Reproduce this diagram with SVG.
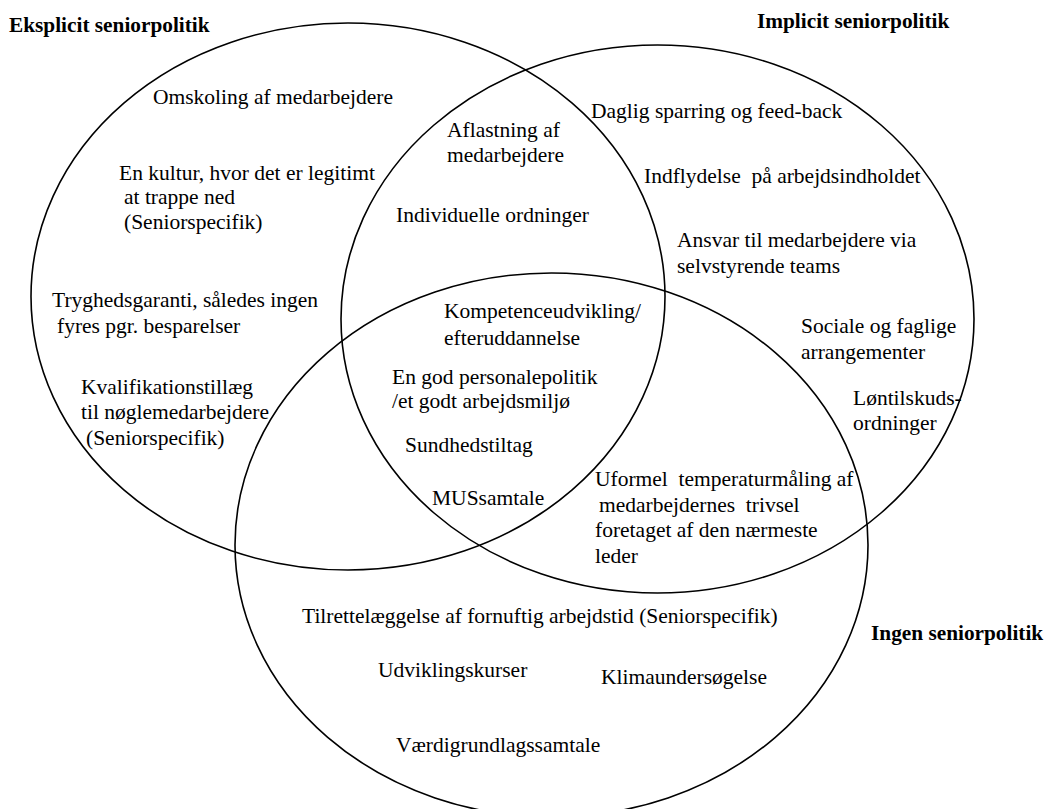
<svg xmlns="http://www.w3.org/2000/svg" width="1045" height="809" viewBox="0 0 1045 809" font-family="'Liberation Serif', 'Times New Roman', Times, serif">
<style>
.set{fill:none;stroke:#000;stroke-width:1.6}
text{font-family:'Liberation Serif','Times New Roman',Times,serif;font-size:21.5px;fill:#000}
.title{font-weight:bold;font-size:21.3px}
.pre{white-space:pre}
</style>
<rect width="1045" height="809" fill="#fff"/>
<g id="sets">
  <g id="eksplicit"><ellipse class="set" cx="348" cy="296.5" rx="317" ry="273.5"/><text class="title" x="9" y="32">Eksplicit seniorpolitik</text></g>
  <g id="implicit"><ellipse class="set" cx="657.5" cy="319" rx="316.5" ry="274"/><text class="title" x="757" y="28">Implicit seniorpolitik</text></g>
  <g id="ingen"><ellipse class="set" cx="551.5" cy="545" rx="316.5" ry="272"/><text class="title" x="871" y="640">Ingen seniorpolitik</text></g>
</g>
<g id="connectors"/>
<g id="only-eksplicit">
  <text x="153" y="104">Omskoling af medarbejdere</text>
  <text x="119" y="180">En kultur, hvor det er legitimt</text>
  <text x="124" y="204">at trappe ned</text>
  <text x="124" y="229">(Seniorspecifik)</text>
  <text x="52" y="307">Tryghedsgaranti, således ingen</text>
  <text x="57" y="333">fyres pgr. besparelser</text>
  <text x="81" y="394">Kvalifikationstillæg</text>
  <text x="81" y="419">til nøglemedarbejdere</text>
  <text x="86" y="445">(Seniorspecifik)</text>
</g>
<g id="eksplicit-implicit">
  <text x="447" y="137">Aflastning af</text>
  <text x="447" y="162">medarbejdere</text>
  <text x="396" y="222">Individuelle ordninger</text>
</g>
<g id="all-three">
  <text x="444" y="318">Kompetenceudvikling/</text>
  <text x="444" y="345">efteruddannelse</text>
  <text x="392" y="384">En god personalepolitik</text>
  <text x="392" y="408">/et godt arbejdsmiljø</text>
  <text x="405" y="452">Sundhedstiltag</text>
  <text x="432" y="505">MUSsamtale</text>
</g>
<g id="only-implicit">
  <text x="591" y="118">Daglig sparring og feed-back</text>
  <text class="pre" x="644" y="183">Indflydelse  på arbejdsindholdet</text>
  <text x="677" y="247">Ansvar til medarbejdere via</text>
  <text x="677" y="273">selvstyrende teams</text>
  <text x="801" y="333">Sociale og faglige</text>
  <text x="801" y="359">arrangementer</text>
  <text x="853" y="405">Løntilskuds-</text>
  <text x="853" y="430">ordninger</text>
</g>
<g id="implicit-ingen">
  <text class="pre" x="595" y="486">Uformel  temperaturmåling af</text>
  <text class="pre" x="599" y="512">medarbejdernes  trivsel</text>
  <text x="595" y="537">foretaget af den nærmeste</text>
  <text x="595" y="563">leder</text>
</g>
<g id="only-ingen">
  <text x="302" y="623">Tilrettelæggelse af fornuftig arbejdstid (Seniorspecifik)</text>
  <text x="378" y="677">Udviklingskurser</text>
  <text x="601" y="684">Klimaundersøgelse</text>
  <text x="396" y="752">Værdigrundlagssamtale</text>
</g>
</svg>
